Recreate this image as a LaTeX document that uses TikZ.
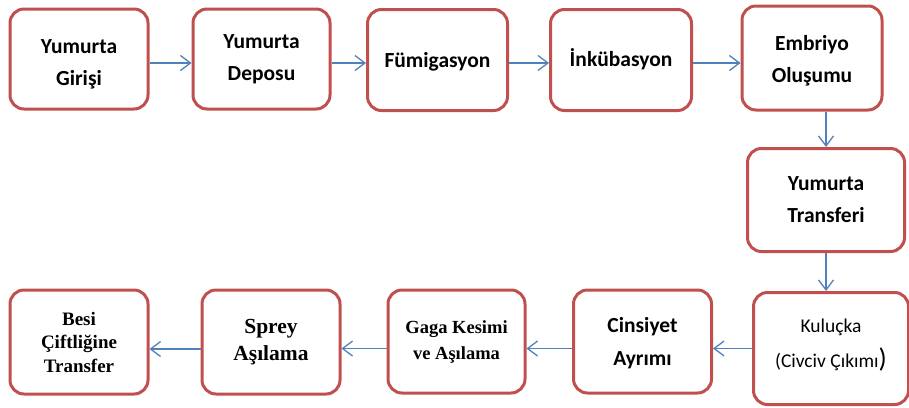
\documentclass[tikz,border=0pt]{standalone}
\usepackage{fontspec}
\setmainfont{Carlito}
\newfontfamily\serifbold{Liberation Serif}[BoldFont=Liberation Serif Bold]
\usetikzlibrary{arrows.meta}
\definecolor{boxred}{RGB}{192,80,77}
\definecolor{flowblue}{RGB}{79,129,189}
\begin{document}
\begin{tikzpicture}[x=1pt,y=-1pt,
  stepbox/.style={draw=boxred,line width=3pt,rounded corners=14pt,fill=white},
  caption/.style={align=center,inner sep=0pt},
  cal/.style={caption,font=\fontsize{21.5}{32}\selectfont\bfseries},
  tnr/.style={caption,font=\serifbold\bfseries},
  flow/.style={draw=flowblue,line width=1.3pt,
    -{Straight Barb[length=10pt,width=15pt,line width=1.3pt]}}]
\useasboundingbox (0,0) rectangle (909,407);
% boxes, top row
\node[stepbox,minimum width=138pt,minimum height=100pt] (b1) at (79,59) {};
\node[stepbox,minimum width=137pt,minimum height=100pt] (b2) at (261.5,59) {};
\node[stepbox,minimum width=140pt,minimum height=101pt] (b3) at (437.5,60) {};
\node[stepbox,minimum width=141pt,minimum height=101pt] (b4) at (621,60) {};
\node[stepbox,minimum width=140pt,minimum height=104pt] (b5) at (812,58) {};
% boxes, right column
\node[stepbox,minimum width=157pt,minimum height=103pt] (b6) at (826,200) {};
\node[stepbox,minimum width=155pt,minimum height=112pt] (b7) at (831,348.5) {};
% boxes, bottom row
\node[stepbox,minimum width=138pt,minimum height=103pt] (b8) at (642.5,341.5) {};
\node[stepbox,minimum width=137pt,minimum height=103pt] (b9) at (456.5,341.5) {};
\node[stepbox,minimum width=138pt,minimum height=104pt] (b10) at (271,342) {};
\node[stepbox,minimum width=138pt,minimum height=104pt] (b11) at (79,342) {};
% captions
\node[cal] (t1) at ([yshift=-5pt]b1) {Yumurta\\Girişi};
\node[cal] (t2) at ([yshift=0pt]b2) {Yumurta\\Deposu};
\node[cal] (t3) at ([yshift=-2pt]b3) {Fümigasyon};
\node[cal] (t4) at ([yshift=1pt]b4) {İnkübasyon};
\node[cal] (t5) at ([yshift=-3pt]b5) {Embriyo\\Oluşumu};
\node[cal] (t6) at (b6) {Yumurta\\Transferi};
\node[caption,font=\fontsize{19.5}{35}\selectfont] (t7) at ([yshift=3pt]b7)
  {Kuluçka\\(Civciv Çıkımı{\fontsize{27}{27}\selectfont)}};
\node[cal,font=\fontsize{21.5}{33}\selectfont\bfseries] (t8) at ([yshift=-2pt]b8) {Cinsiyet\\Ayrımı};
\node[tnr,font=\serifbold\fontsize{18.5}{26}\selectfont\bfseries] (t9) at (b9) {Gaga Kesimi\\ve Aşılama};
\node[tnr,font=\serifbold\fontsize{21.5}{27}\selectfont\bfseries] (t10) at (b10) {Sprey\\Aşılama};
\node[tnr,font=\serifbold\fontsize{19}{23.5}\selectfont\bfseries] (t11) at (b11) {Besi\\Çiftliğine\\Transfer};
% connectors
\draw[flow] ([yshift=-4pt]b1.east) -- ([yshift=-4pt]b1.east -| b2.west);
\draw[flow] ([yshift=-4pt]b2.east) -- ([yshift=-4pt]b2.east -| b3.west);
\draw[flow] ([yshift=-3pt]b3.east) -- ([yshift=-3pt]b3.east -| b4.west);
\draw[flow] ([yshift=-3pt]b4.east) -- ([yshift=-3pt]b4.east -| b5.west);
\draw[flow] (b5.south -| b6.north) -- (b6.north);
\draw[flow] (b6.south) -- (b6.south |- b7.north);
\draw[flow] (b7.west) -- (b7.west -| b8.east);
\draw[flow] ([yshift=-7pt]b8.west) -- ([yshift=-7pt]b8.west -| b9.east);
\draw[flow] ([yshift=-7pt]b9.west) -- ([yshift=-7pt]b9.west -| b10.east);
\draw[flow] ([yshift=-7pt]b10.west) -- ([yshift=-7pt]b10.west -| b11.east);
\end{tikzpicture}
\end{document}
